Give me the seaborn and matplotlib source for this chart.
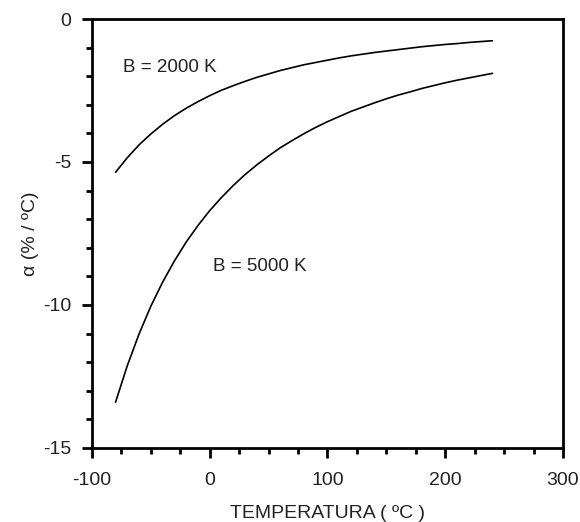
import numpy as np
import pandas as pd
import matplotlib
matplotlib.use("Agg")
import matplotlib.pyplot as plt
from matplotlib.ticker import MultipleLocator
import seaborn as sns

# temperature (degC) and alpha (% / degC)
temperatura = [-80, -70, -60, -50, -40, -30, -20, -10, 0, 10, 20, 30, 40, 50, 60, 70, 80,
               90, 100, 110, 120, 130, 140, 150, 160, 170, 180, 190, 200, 210, 220, 230, 240]
alpha_2000 = [-5.36, -4.85, -4.40, -4.02, -3.68, -3.38, -3.12, -2.89, -2.68, -2.49, -2.33,
              -2.18, -2.04, -1.92, -1.80, -1.70, -1.60, -1.52, -1.44, -1.36, -1.29, -1.23,
              -1.17, -1.12, -1.07, -1.02, -0.97, -0.93, -0.89, -0.86, -0.82, -0.79, -0.76]
alpha_5000 = [-13.40, -12.12, -11.01, -10.04, -9.20, -8.46, -7.80, -7.22, -6.70, -6.24,
              -5.82, -5.44, -5.10, -4.79, -4.50, -4.25, -4.01, -3.79, -3.59, -3.41, -3.23,
              -3.08, -2.93, -2.79, -2.66, -2.55, -2.43, -2.33, -2.23, -2.14, -2.06, -1.98, -1.90]

df = pd.DataFrame({
    "T": temperatura * 2,
    "alpha": alpha_2000 + alpha_5000,
    "B": ["B = 2000 K"] * len(temperatura) + ["B = 5000 K"] * len(temperatura),
})

sns.set_style("ticks")
plt.rcParams["font.family"] = ["Liberation Sans", "DejaVu Sans"]
plt.rcParams["axes.unicode_minus"] = False

fig = plt.figure(figsize=(5.8, 5.22), dpi=100)
ax = fig.add_axes([0.1586, 0.1418, 0.8121, 0.8218])

sns.lineplot(data=df, x="T", y="alpha", units="B", estimator=None,
             color="black", linewidth=1.2, ax=ax, legend=False)

ax.set_xlim(-100, 300)
ax.set_ylim(-15, 0)
ax.xaxis.set_major_locator(MultipleLocator(100))
ax.xaxis.set_minor_locator(MultipleLocator(25))
ax.yaxis.set_major_locator(MultipleLocator(5))
ax.yaxis.set_minor_locator(MultipleLocator(1))

txt = "#222222"
for s in ax.spines.values():
    s.set_linewidth(2)
    s.set_color("black")
ax.tick_params(which="major", direction="out", length=7, width=2, labelsize=14,
               colors="black", labelcolor=txt, pad=8)
ax.tick_params(axis="x", which="major", pad=10)
ax.tick_params(which="minor", direction="out", length=4, width=2, colors="black")

ax.set_xlabel("TEMPERATURA ( ºC )", fontsize=14, color=txt, labelpad=12)
ax.set_ylabel("α (% / ºC)", fontsize=14, color=txt, labelpad=3)

ax.text(-74, -1.7, "B = 2000 K", fontsize=13.5, color=txt, va="center")
ax.text(3, -8.67, "B = 5000 K", fontsize=13.5, color=txt, va="center")

fig.savefig("out.png", dpi=100)
